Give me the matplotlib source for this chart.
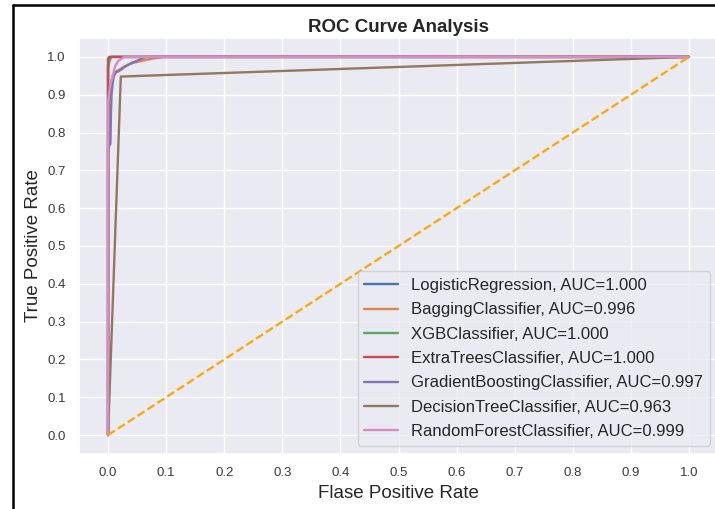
import matplotlib
matplotlib.use("Agg")
import matplotlib.pyplot as plt
import seaborn as sns
from matplotlib.lines import Line2D

sns.set_theme(style="darkgrid")
plt.rcParams['font.family'] = ['Liberation Sans', 'DejaVu Sans']

# ROC data
models = ["LogisticRegression", "BaggingClassifier", "XGBClassifier",
          "ExtraTreesClassifier", "GradientBoostingClassifier",
          "DecisionTreeClassifier", "RandomForestClassifier"]
aucs = [1.000, 0.996, 1.000, 1.000, 0.997, 0.963, 0.999]

fpr_lr = [0, 0, 0.003, 0.005, 1]
tpr_lr = [0, 0.98, 0.995, 1.0, 1.0]

fpr_bag = [0, 0.001, 0.003, 0.005, 0.008, 0.012, 0.018, 0.025, 0.035, 0.045, 0.06, 0.075, 0.095, 1]
tpr_bag = [0, 0.85, 0.90, 0.93, 0.95, 0.96, 0.965, 0.972, 0.98, 0.985, 0.99, 0.995, 1.0, 1.0]

fpr_xgb = [0, 0, 0.002, 0.004, 0.006, 1]
tpr_xgb = [0, 0.97, 0.985, 0.995, 1.0, 1.0]

fpr_et = [0, 0, 0.002, 1]
tpr_et = [0, 0.995, 1.0, 1.0]

fpr_gb = [0, 0.0, 0.004, 0.005, 0.006, 0.008, 0.010, 0.014, 0.018, 0.024, 0.030, 0.036, 0.042, 0.050, 0.058, 0.065, 1.0]
tpr_gb = [0, 0.76, 0.77, 0.85, 0.90, 0.93, 0.95, 0.96, 0.962, 0.968, 0.975, 0.98, 0.985, 0.99, 0.995, 1.0, 1.0]

fpr_dt = [0, 0.022, 1]
tpr_dt = [0, 0.948, 1]

fpr_rf = [0, 0, 0.003, 0.008, 0.012, 0.018, 0.028, 1]
tpr_rf = [0, 0.88, 0.92, 0.95, 0.975, 0.99, 1.0, 1.0]

fprs = [fpr_lr, fpr_bag, fpr_xgb, fpr_et, fpr_gb, fpr_dt, fpr_rf]
tprs = [tpr_lr, tpr_bag, tpr_xgb, tpr_et, tpr_gb, tpr_dt, tpr_rf]

ticks = [i / 10 for i in range(11)]

fig = plt.figure(figsize=(7.15, 5.09), dpi=100)
fig.patch.set_facecolor("white")
ax = fig.add_axes([79 / 715, 1 - 454 / 509, (718 - 79) / 715, (454 - 38) / 509])

for name, auc, f, t in zip(models, aucs, fprs, tprs):
    ax.plot(f, t, label="{}, AUC={:.3f}".format(name, auc), lw=1.7)

ax.plot([0, 1], [0, 1], color="orange", linestyle="--", lw=1.6)

ax.set_xlim(-0.05, 1.05)
ax.set_ylim(-0.05, 1.05)
ax.set_xticks(ticks)
ax.set_yticks(ticks)
ax.tick_params(labelsize=9.5, colors="#3a3a3a")
ax.set_xlabel("Flase Positive Rate", fontsize=13.5, color="#262626")
ax.set_ylabel("True Positive Rate", fontsize=13.5, color="#262626")
ax.set_title("ROC Curve Analysis", fontweight="bold", fontsize=13.5, color="#262626", pad=4)
ax.legend(loc="lower right", fontsize=12, frameon=True, labelspacing=0.56)

# partial black frame (cropped screenshot border)
x0 = 13 / 715
y0 = 1 - 5 / 509
fig.add_artist(Line2D([x0, x0], [0, y0], color="black", lw=1.8, transform=fig.transFigure))
fig.add_artist(Line2D([x0, 1], [y0, y0], color="black", lw=1.8, transform=fig.transFigure))

fig.savefig("out.png", dpi=100)
